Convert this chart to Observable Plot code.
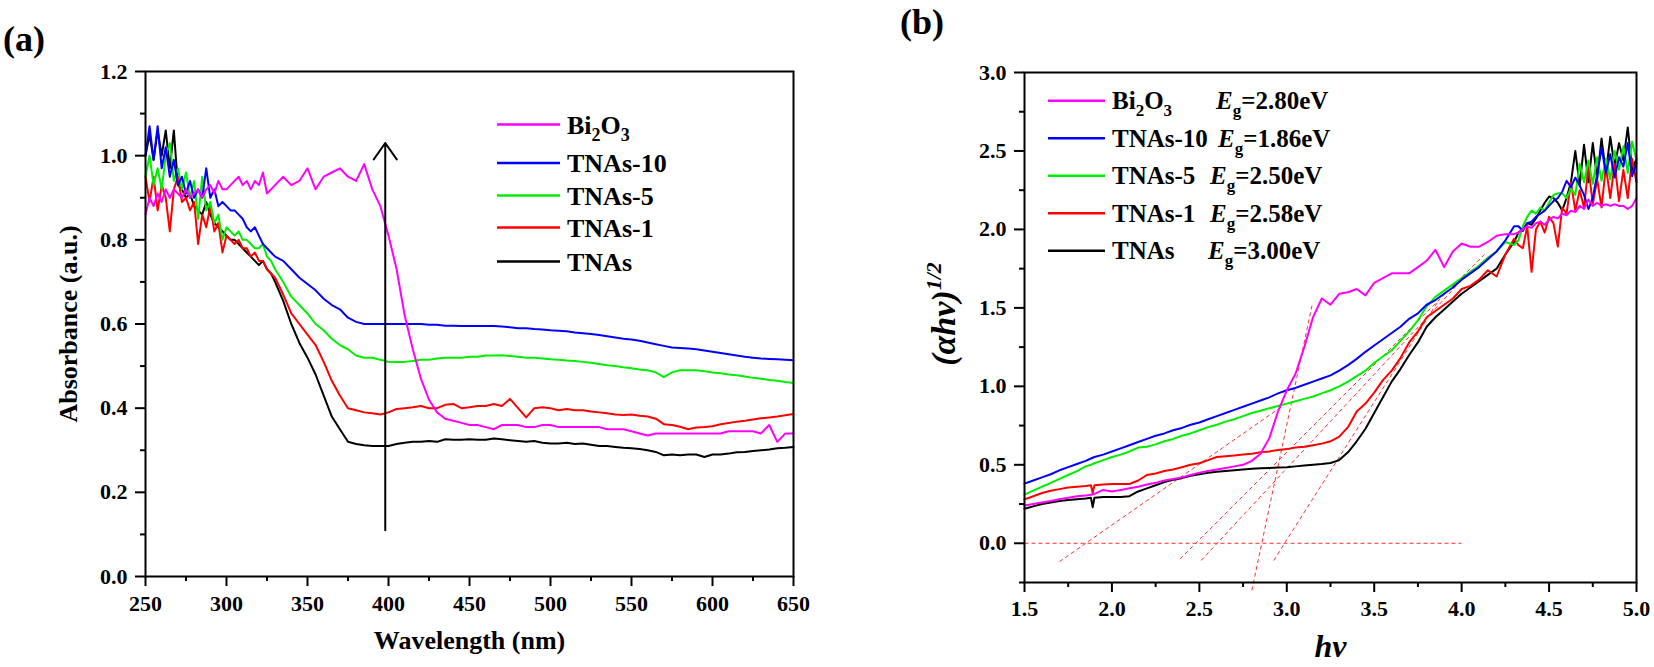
<!DOCTYPE html>
<html><head><meta charset="utf-8">
<script src="https://cdn.jsdelivr.net/npm/d3@7"></script>
<script src="https://cdn.jsdelivr.net/npm/@observablehq/plot@0.6"></script>
<style>
body{margin:0;background:#fff;}
#wrap{position:relative;width:1654px;height:667px;overflow:hidden;background:#fff;}
#wrap > svg{position:absolute;top:0;}
</style></head><body><div id="wrap"></div>
<script>
// ---------- data: panel (a) absorbance spectra ----------
const seriesNames = ["Bi2O3", "TNAs-10", "TNAs-5", "TNAs-1", "TNAs"];
const seriesColors = ["#ff00ff", "#0000ff", "#00ee00", "#ff0000", "#000000"];
const egValues = ["2.80", "1.86", "2.50", "2.58", "3.00"];

const wavelength = [250,252.5,255,257.5,260,262.5,265,267.5,270,272.5,275,277.5,280,282.5,285,287.5,290,292.5,295,297.5,300,302.5,305,307.5,310,312.5,315,317.5,320,322.5,325,327.5,330,
335,340,345,350,355,360,365,370,375,380,385,390,395,400,405,410,415,420,425,430,435,440,445,450,455,460,465,470,475,480,485,490,495,500,505,510,515,520,525,530,535,540,545,550,555,560,565,570,575,580,585,590,595,600,605,610,615,620,625,630,635,640,645,650];

const absBi2O3 = [0.86,0.90,0.88,0.91,0.89,0.92,0.90,0.92,0.91,0.90,0.92,0.90,0.91,0.92,0.90,0.92,0.93,0.91,0.94,0.92,0.92,0.93,0.94,0.95,0.93,0.94,0.92,0.94,0.93,0.96,0.91,0.92,0.93,
0.95,0.93,0.94,0.97,0.92,0.95,0.96,0.97,0.95,0.94,0.98,0.92,0.88,0.81,0.73,0.62,0.54,0.47,0.42,0.39,0.375,0.37,0.365,0.36,0.36,0.355,0.35,0.36,0.36,0.36,0.355,0.355,0.36,0.36,0.355,0.355,0.355,0.355,0.355,0.355,0.35,0.35,0.35,0.345,0.34,0.335,0.34,0.34,0.34,0.34,0.34,0.34,0.34,0.34,0.34,0.345,0.345,0.345,0.345,0.34,0.36,0.32,0.34,0.34];
const absTNAs10 = [1.00,1.07,0.99,1.07,0.97,1.02,0.95,0.99,0.93,0.95,0.91,0.94,0.90,0.92,0.90,0.97,0.90,0.92,0.88,0.89,0.88,0.87,0.87,0.86,0.85,0.83,0.82,0.83,0.81,0.79,0.78,0.77,0.76,
0.75,0.73,0.71,0.695,0.68,0.66,0.645,0.635,0.615,0.605,0.60,0.60,0.60,0.60,0.60,0.60,0.60,0.60,0.598,0.598,0.596,0.596,0.595,0.595,0.595,0.595,0.595,0.594,0.592,0.59,0.59,0.588,0.587,0.585,0.584,0.583,0.58,0.578,0.576,0.574,0.571,0.568,0.565,0.563,0.56,0.556,0.552,0.548,0.544,0.543,0.542,0.54,0.537,0.534,0.531,0.528,0.525,0.522,0.52,0.518,0.517,0.516,0.515,0.514];
const absTNAs5 = [0.95,1.00,0.93,0.97,0.92,1.00,1.03,0.94,0.97,0.92,0.96,0.90,0.94,0.85,0.95,0.87,0.89,0.84,0.86,0.80,0.83,0.82,0.81,0.82,0.80,0.80,0.79,0.78,0.78,0.79,0.76,0.75,0.73,
0.70,0.665,0.645,0.625,0.60,0.585,0.565,0.55,0.54,0.525,0.52,0.52,0.515,0.51,0.51,0.51,0.512,0.515,0.515,0.518,0.52,0.52,0.52,0.522,0.522,0.525,0.525,0.526,0.524,0.522,0.52,0.52,0.518,0.516,0.515,0.513,0.512,0.51,0.508,0.505,0.502,0.50,0.497,0.495,0.492,0.49,0.485,0.474,0.485,0.49,0.49,0.49,0.488,0.485,0.483,0.48,0.478,0.475,0.472,0.47,0.467,0.465,0.462,0.46];
const absTNAs1 = [0.95,0.89,0.95,0.87,0.93,0.90,0.82,0.92,0.95,0.89,0.90,0.87,0.89,0.79,0.86,0.83,0.88,0.82,0.84,0.77,0.81,0.80,0.79,0.80,0.78,0.78,0.76,0.77,0.75,0.75,0.73,0.72,0.71,
0.67,0.625,0.60,0.575,0.55,0.51,0.465,0.43,0.40,0.395,0.39,0.388,0.385,0.39,0.398,0.40,0.402,0.405,0.40,0.40,0.408,0.41,0.40,0.402,0.405,0.405,0.41,0.405,0.422,0.40,0.378,0.40,0.402,0.40,0.395,0.398,0.395,0.395,0.392,0.39,0.388,0.385,0.384,0.385,0.382,0.38,0.375,0.362,0.36,0.356,0.35,0.354,0.355,0.357,0.362,0.365,0.368,0.37,0.373,0.376,0.378,0.38,0.383,0.386];
const absTNAs = [1.00,1.05,0.99,1.06,1.00,1.06,0.97,1.06,0.93,0.92,0.90,0.91,0.88,0.87,0.86,0.89,0.86,0.84,0.83,0.82,0.81,0.80,0.80,0.79,0.78,0.77,0.76,0.75,0.74,0.75,0.73,0.72,0.70,
0.655,0.60,0.555,0.52,0.48,0.43,0.38,0.35,0.32,0.315,0.312,0.31,0.31,0.31,0.315,0.318,0.32,0.32,0.322,0.32,0.326,0.325,0.325,0.326,0.325,0.325,0.328,0.326,0.324,0.322,0.32,0.322,0.318,0.316,0.316,0.318,0.315,0.316,0.313,0.31,0.31,0.308,0.306,0.305,0.303,0.30,0.296,0.288,0.29,0.288,0.29,0.29,0.284,0.29,0.29,0.292,0.295,0.296,0.298,0.30,0.302,0.305,0.306,0.308];

// arrow in panel (a)
const arrowWavelength = [398];
const arrowAbs = [0.11, 1.03];

// ---------- data: panel (b) Tauc plot ----------
const energy = [1.50,1.55,1.60,1.65,1.70,1.75,1.80,1.85,1.88,1.89,1.90,1.95,
2.00,2.05,2.10,2.15,2.20,2.25,2.30,2.35,2.40,2.45,
2.50,2.55,2.60,2.65,2.70,2.75,2.80,2.85,2.90,2.95,
3.00,3.05,3.10,3.15,3.20,3.25,3.30,3.35,3.40,3.45,
3.50,3.55,3.60,3.65,3.70,3.75,3.80,3.85,3.90,3.95,
4.00,4.05,4.10,4.15,4.20,4.25,4.30,
4.325,4.35,4.375,4.40,4.425,4.45,4.475,4.50,4.525,4.55,4.575,4.60,4.625,4.65,4.675,4.70,4.725,4.75,4.775,4.80,4.825,4.85,4.875,4.90,4.925,4.95,4.975,5.00];

const taucBi2O3 = [0.24,0.25,0.26,0.27,0.28,0.29,0.30,0.305,0.31,0.31,0.315,0.34,
0.33,0.34,0.35,0.36,0.375,0.385,0.40,0.41,0.42,0.435,
0.45,0.46,0.47,0.48,0.49,0.50,0.525,0.57,0.67,0.84,
0.975,1.08,1.25,1.44,1.56,1.52,1.59,1.60,1.62,1.58,
1.66,1.69,1.72,1.72,1.72,1.76,1.80,1.87,1.76,1.86,
1.91,1.89,1.89,1.92,1.96,1.97,1.97,
1.98,2.00,2.02,2.01,2.04,2.05,2.03,2.06,2.08,2.07,2.10,2.09,2.12,2.11,2.15,2.13,2.19,2.15,2.17,2.15,2.16,2.15,2.16,2.15,2.15,2.13,2.15,2.20];
const taucTNAs10 = [0.38,0.40,0.42,0.44,0.465,0.485,0.505,0.525,0.54,0.545,0.55,0.565,
0.585,0.605,0.625,0.645,0.665,0.685,0.70,0.72,0.735,0.755,
0.77,0.79,0.81,0.83,0.85,0.87,0.89,0.91,0.93,0.955,
0.975,0.99,1.01,1.03,1.05,1.07,1.10,1.135,1.175,1.22,
1.26,1.30,1.34,1.38,1.43,1.465,1.52,1.55,1.59,1.63,
1.68,1.72,1.76,1.81,1.86,1.93,2.02,
2.02,1.99,2.04,2.05,2.08,2.10,2.12,2.15,2.18,2.20,2.24,2.31,2.27,2.33,2.28,2.22,2.13,2.20,2.35,2.52,2.36,2.48,2.33,2.46,2.40,2.55,2.34,2.42];
const taucTNAs5 = [0.31,0.335,0.36,0.385,0.41,0.435,0.46,0.49,0.50,0.505,0.51,0.53,
0.55,0.565,0.585,0.61,0.615,0.63,0.65,0.665,0.685,0.70,
0.72,0.74,0.755,0.775,0.79,0.81,0.83,0.845,0.86,0.875,
0.89,0.905,0.92,0.935,0.955,0.975,1.00,1.03,1.065,1.10,
1.15,1.19,1.23,1.29,1.35,1.42,1.51,1.57,1.61,1.65,
1.69,1.73,1.77,1.82,1.86,1.92,1.90,
1.93,2.02,2.08,2.12,2.10,2.14,2.12,2.17,2.22,2.23,2.23,2.20,2.26,2.22,2.42,2.30,2.44,2.29,2.46,2.31,2.45,2.32,2.50,2.38,2.53,2.36,2.56,2.44];
const taucTNAs1 = [0.28,0.30,0.32,0.335,0.345,0.355,0.36,0.365,0.37,0.32,0.37,0.375,
0.378,0.378,0.378,0.40,0.435,0.445,0.46,0.47,0.485,0.50,
0.51,0.53,0.55,0.555,0.56,0.565,0.57,0.58,0.585,0.595,
0.60,0.61,0.615,0.625,0.635,0.65,0.68,0.74,0.84,0.89,
0.96,1.04,1.10,1.18,1.28,1.35,1.44,1.48,1.52,1.56,
1.62,1.64,1.68,1.74,1.70,1.84,1.94,
1.90,1.88,2.02,1.73,2.00,2.05,1.98,2.08,2.04,1.89,2.14,2.10,2.30,2.12,2.25,2.14,2.40,2.16,2.32,2.14,2.40,2.20,2.42,2.18,2.38,2.20,2.45,2.30];
const taucTNAs = [0.22,0.235,0.25,0.26,0.27,0.275,0.28,0.285,0.29,0.23,0.29,0.295,
0.295,0.295,0.30,0.33,0.35,0.37,0.39,0.405,0.415,0.43,
0.44,0.45,0.455,0.46,0.465,0.47,0.475,0.478,0.48,0.483,
0.485,0.49,0.495,0.50,0.505,0.512,0.53,0.58,0.65,0.73,
0.83,0.93,1.03,1.11,1.20,1.28,1.38,1.44,1.49,1.54,
1.59,1.63,1.67,1.71,1.75,1.84,1.92,
1.98,2.00,2.04,2.03,2.07,2.12,2.17,2.21,2.20,2.17,2.12,2.20,2.30,2.50,2.28,2.54,2.30,2.55,2.32,2.58,2.36,2.59,2.40,2.55,2.44,2.65,2.38,2.45];

// tangent (extrapolation) lines in panel (b)
const tanX1 = [1.50, 1.70, 2.39, 2.51, 2.80, 2.925];
const tanY1 = [0, -0.117, -0.10, -0.11, -0.30, -0.11];
const tanX2 = [4.00, 2.97, 4.13, 4.02, 3.146, 3.87];
const tanY2 = [0, 0.87, 1.84, 1.70, 1.525, 1.55];

// tick values
const ticksAx = [250, 300, 350, 400, 450, 500, 550, 600, 650];
const minorAx = [275, 325, 375, 425, 475, 525, 575, 625];
const ticksAy = [0, 0.2, 0.4, 0.6, 0.8, 1.0, 1.2];
const minorAy = [0.1, 0.3, 0.5, 0.7, 0.9, 1.1];
const ticksBx = [1.5, 2.0, 2.5, 3.0, 3.5, 4.0, 4.5, 5.0];
const minorBx = [1.75, 2.25, 2.75, 3.25, 3.75, 4.25, 4.75];
const ticksBy = [0, 0.5, 1.0, 1.5, 2.0, 2.5, 3.0];
const minorBy = [-0.25, 0.25, 0.75, 1.25, 1.75, 2.25, 2.75];

// ---------- build ----------
const FONT = '"Liberation Serif", "Times New Roman", serif';
const absSeries = [absBi2O3, absTNAs10, absTNAs5, absTNAs1, absTNAs];
const taucSeries = [taucBi2O3, taucTNAs10, taucTNAs5, taucTNAs1, taucTNAs];
const drawOrder = [4, 3, 2, 1, 0];
const rows = (xs, ys) => xs.map((x, i) => ({x, y: ys[i]}));
const fmt1 = d3.format(".1f");

function axes(xt, xm, yt, ym, xFmt, xPad) {
  const common = {strokeWidth: 2, fontSize: 22, fontWeight: "bold", fontFamily: FONT, label: null};
  return [
    Plot.axisX(xt, {...common, anchor: "bottom", tickSize: 10, tickPadding: xPad, tickFormat: xFmt}),
    Plot.axisX(xm, {...common, anchor: "bottom", tickSize: 5, tickFormat: () => ""}),
    Plot.axisY(yt, {...common, anchor: "left", tickSize: 10, tickPadding: 8, tickFormat: fmt1}),
    Plot.axisY(ym, {...common, anchor: "left", tickSize: 5, tickFormat: () => ""})
  ];
}

const plotA = Plot.plot({
  width: 827, height: 667,
  marginLeft: 145, marginRight: 34, marginTop: 71, marginBottom: 91,
  x: {domain: [250, 650], axis: null},
  y: {domain: [0, 1.2], axis: null},
  style: {fontFamily: FONT, background: "transparent", color: "#000", overflow: "visible"},
  marks: [
    ...drawOrder.map(i => Plot.line(rows(wavelength, absSeries[i]), {x: "x", y: "y", stroke: seriesColors[i], strokeWidth: 2})),
    Plot.arrow([{x: arrowWavelength[0], y1: arrowAbs[0], y2: arrowAbs[1]}], {x1: "x", x2: "x", y1: "y1", y2: "y2", stroke: "#000", strokeWidth: 2, headLength: 15, headAngle: 70}),
    Plot.frame({stroke: "#000", strokeWidth: 2}),
    ...axes(ticksAx, minorAx, ticksAy, minorAy, d => String(d), 9),
    Plot.text(["Wavelength (nm)"], {text: d => d, frameAnchor: "bottom", lineAnchor: "middle", textAnchor: "middle", dy: 64, fontSize: 26, fontWeight: "bold", fontFamily: FONT}),
    Plot.text(["Absorbance (a.u.)"], {text: d => d, frameAnchor: "left", textAnchor: "middle", lineAnchor: "middle", dx: -77, rotate: -90, fontSize: 26, fontWeight: "bold", fontFamily: FONT})
  ]
});
plotA.style.left = "0px";

const tangents = tanX1.map((x1, i) => ({x1, y1: tanY1[i], x2: tanX2[i], y2: tanY2[i]}));
const plotB = Plot.plot({
  width: 827, height: 667,
  marginLeft: 197, marginRight: 18, marginTop: 72, marginBottom: 85,
  x: {domain: [1.5, 5.0], axis: null},
  y: {domain: [-0.25, 3.0], axis: null},
  style: {fontFamily: FONT, background: "transparent", color: "#000", overflow: "visible"},
  marks: [
    Plot.link(tangents, {x1: "x1", y1: "y1", x2: "x2", y2: "y2", stroke: "#ff3030", strokeWidth: 1, strokeDasharray: "4,3"}),
    ...drawOrder.map(i => Plot.line(rows(energy, taucSeries[i]), {x: "x", y: "y", stroke: seriesColors[i], strokeWidth: 2})),
    Plot.frame({stroke: "#000", strokeWidth: 2}),
    ...axes(ticksBx, minorBx, ticksBy, minorBy, fmt1, 8),
    Plot.text(["hv"], {text: d => d, frameAnchor: "bottom", lineAnchor: "middle", textAnchor: "middle", dy: 64, fontSize: 32, fontWeight: "bold", fontStyle: "italic", fontFamily: FONT})
  ]
});
plotB.style.left = "827px";

const wrap = document.getElementById("wrap");
wrap.appendChild(plotA);
wrap.appendChild(plotB);

// ---------- overlay: panel labels, legends, y title of (b) ----------
const ov = d3.create("svg").attr("width", 1654).attr("height", 667)
  .style("left", "0px").style("font-family", FONT).style("pointer-events", "none");

ov.append("text").attr("x", 3).attr("y", 51).attr("font-size", 36).attr("font-weight", "bold").text("(a)");
ov.append("text").attr("x", 900).attr("y", 34).attr("font-size", 36).attr("font-weight", "bold").text("(b)");

function writeName(t, name, sub) {
  if (name === "Bi2O3") {
    t.append("tspan").text("Bi");
    t.append("tspan").attr("font-size", sub).attr("dy", 7).text("2");
    t.append("tspan").attr("dy", -7).text("O");
    t.append("tspan").attr("font-size", sub).attr("dy", 7).text("3");
  } else {
    t.append("tspan").text(name);
  }
}

// legend (a)
const rowsA = [124.5, 163, 195.5, 227.5, 261.5];
seriesNames.forEach((name, i) => {
  ov.append("line").attr("x1", 497).attr("x2", 560).attr("y1", rowsA[i]).attr("y2", rowsA[i])
    .attr("stroke", seriesColors[i]).attr("stroke-width", 2.5);
  const t = ov.append("text").attr("x", 567).attr("y", rowsA[i] + 9).attr("font-size", 26).attr("font-weight", "bold");
  writeName(t, name, 18);
});

// legend (b)
const rowsB = [100.7, 138.2, 175.7, 213.2, 250.7];
const egX = [1216, 1218, 1210, 1210, 1208];
seriesNames.forEach((name, i) => {
  ov.append("line").attr("x1", 1048).attr("x2", 1105).attr("y1", rowsB[i]).attr("y2", rowsB[i])
    .attr("stroke", seriesColors[i]).attr("stroke-width", 2.5);
  const t = ov.append("text").attr("x", 1112).attr("y", rowsB[i] + 8.5).attr("font-size", 25).attr("font-weight", "bold");
  writeName(t, name, 17);
  const e = ov.append("text").attr("x", egX[i]).attr("y", rowsB[i] + 8.5).attr("font-size", 25).attr("font-weight", "bold");
  e.append("tspan").attr("font-style", "italic").text("E");
  e.append("tspan").attr("font-size", 17).attr("dy", 7).text("g");
  e.append("tspan").attr("dy", -7).text("=" + egValues[i] + "eV");
});

// y title of (b): (αhv)^1/2
const yt = ov.append("text").attr("transform", "translate(955,314) rotate(-90)")
  .attr("text-anchor", "middle").attr("font-size", 34).attr("font-weight", "bold").attr("font-style", "italic");
yt.append("tspan").text("(αhv)");
yt.append("tspan").attr("font-size", 22).attr("dy", -14).text("1/2");

wrap.appendChild(ov.node());
</script></body></html>
